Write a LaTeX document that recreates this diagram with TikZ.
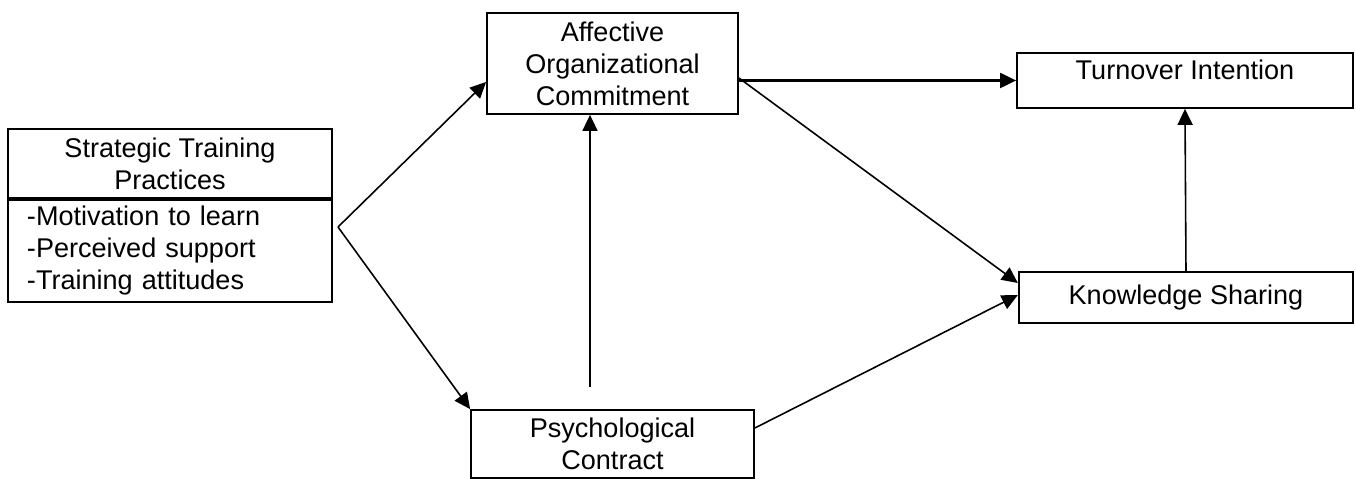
\documentclass[tikz,border=0pt]{standalone}
\usepackage{fontspec}
\setmainfont{Liberation Sans}
\usepackage{tikz}
\usetikzlibrary{arrows.meta, positioning, calc}
\tikzstyle{arrow} = [line width=0.9pt, -{Triangle[length=3.2mm,width=3mm]}]

\begin{document}
\begin{tikzpicture}[
	box/.style={rectangle,draw,line width=1pt,inner sep=2pt,align=center,font=\fontsize{15.4}{18.2}\selectfont}
]
\useasboundingbox (0,0) rectangle (27.12,9.58);

% Strategic Training Practices
\node[box, minimum width=6.48cm, minimum height=1.38cm] (stph) at (3.40,6.31) {Strategic Training\\Practices};
\node[box, text width=5.72cm, inner xsep=0.38cm, minimum height=2.04cm, align=left, anchor=north] (stpl) at (stph.south) {-Motivation to learn\\-Perceived support\\-Training attitudes};

% Mediators
\node[box, minimum width=5.02cm, minimum height=2.02cm] (aoc) at (12.25,8.31) {Affective\\Organizational\\Commitment};
\node[box, minimum width=5.66cm, minimum height=1.36cm] (pc) at (12.25,0.70) {Psychological\\Contract};

% Outcomes
\node[box, minimum width=6.72cm, minimum height=1.10cm, text depth=12pt] (ti) at (23.70,7.97) {Turnover Intention};
\node[box, minimum width=6.68cm, minimum height=1.02cm, line width=1.3pt] (ks) at (23.72,3.63) {Knowledge Sharing};

% Paths
\coordinate (fork) at (6.76,5.04);
\draw[arrow] (fork) -- ($(aoc.west)+(0,-0.37)$);
\draw[arrow] (fork) -- (pc.north west);
\draw[arrow, line width=1.2pt] (aoc.east |- ti.west) -- (ti.west);
\draw[arrow] ($(aoc.east)+(0,-0.29)$) -- ($(ks.west)+(0,0.29)$);
\draw[arrow] ($(pc.east)+(0,0.32)$) -- ($(ks.west)+(0,0.05)$);
\coordinate (gap) at ($(pc.north)+(-0.45,0.44)$);
\draw[arrow] (gap) -- (gap |- aoc.south);
\draw[arrow] (ks.north) -- (ti.south);

\end{tikzpicture}
\end{document}
